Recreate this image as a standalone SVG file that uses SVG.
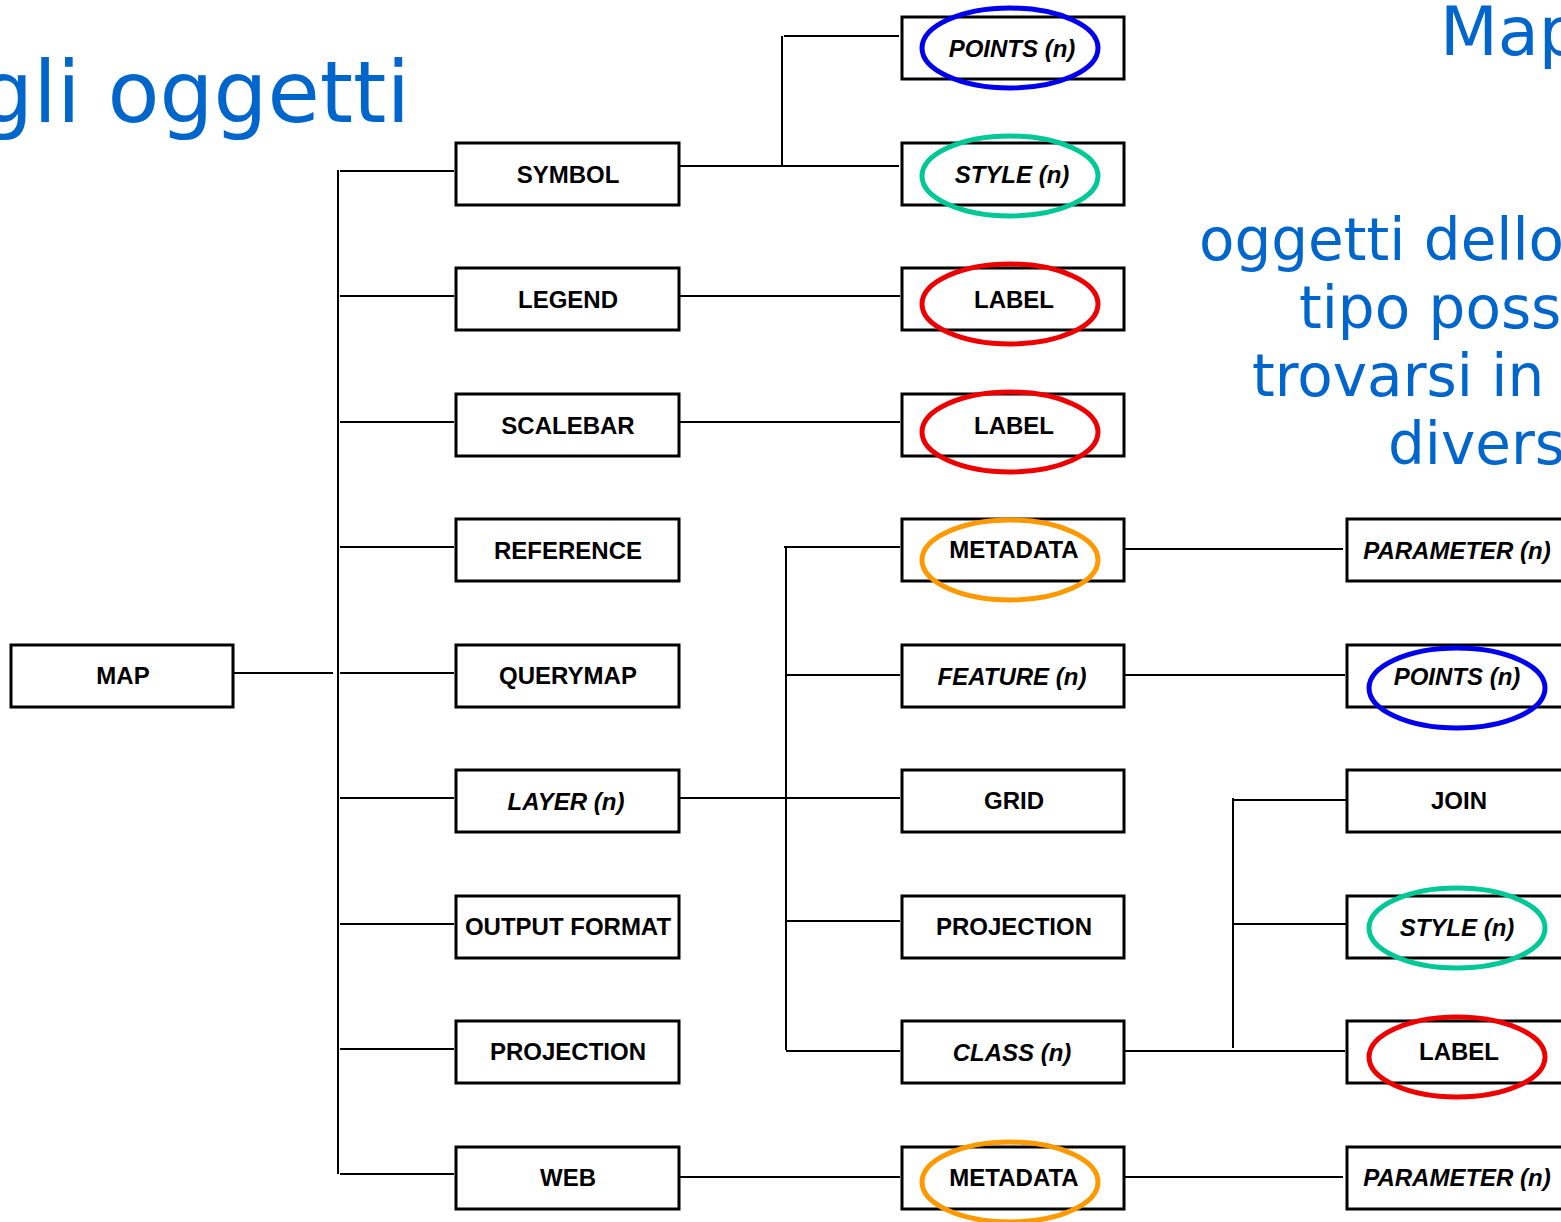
<svg xmlns="http://www.w3.org/2000/svg" width="1561" height="1222" viewBox="0 0 1561 1222">
<style>
.box{fill:#fff;stroke:#000;stroke-width:3}
.t{font-family:"Liberation Sans",Arial,sans-serif;font-weight:bold;font-size:24px;text-anchor:middle;fill:#000}
.i{font-style:italic}
.c{stroke:#000;stroke-width:2;fill:none}
.e{fill:none;stroke-width:5}
.blue{stroke:#0000ee}.green{stroke:#00c896}.red{stroke:#ee0000}.orange{stroke:#ff9900}
.h{font-family:"DejaVu Sans",sans-serif;fill:#0066cc}
</style>
<rect width="1561" height="1222" fill="#fff"/>
<text class="h" x="410" y="122" font-size="85" text-anchor="end">gli oggetti</text>
<text class="h" x="1440" y="55" font-size="67">Map</text>
<g class="h" font-size="58">
<text x="1199" y="260">oggetti dello</text>
<text x="1299" y="328">tipo poss</text>
<text x="1252" y="396">trovarsi in</text>
<text x="1388" y="464">divers</text>
</g>
<g id="connectors">
<path class="c" d="M234 673H333M338 170V1174M340 171H454M340 296H454M340 422H454M340 547H454M340 673H454M340 798H454M340 924H454M340 1049H454M340 1174H454"/>
<path class="c" d="M680 166H899M782 36V166M784 36H899"/>
<path class="c" d="M680 296H900M680 422H900M680 1177H900"/>
<path class="c" d="M680 798H900M786 547V1050M784 547H900M786 675H900M786 921H900M786 1051H900"/>
<path class="c" d="M1120 549H1343M1122 675H1345M1125 1051H1345M1233 798V1048M1233 800H1346M1233 924H1346M1120 1177H1343"/>
</g>
<g id="map"><rect class="box" x="11" y="645" width="222" height="62"/><text class="t" x="123" y="684">MAP</text></g>
<g id="symbol"><rect class="box" x="456" y="143" width="223" height="62"/><text class="t" x="568" y="183">SYMBOL</text></g>
<g id="legend"><rect class="box" x="456" y="268" width="223" height="62"/><text class="t" x="568" y="308">LEGEND</text></g>
<g id="scalebar"><rect class="box" x="456" y="394" width="223" height="62"/><text class="t" x="568" y="434">SCALEBAR</text></g>
<g id="reference"><rect class="box" x="456" y="519" width="223" height="62"/><text class="t" x="568" y="559">REFERENCE</text></g>
<g id="querymap"><rect class="box" x="456" y="645" width="223" height="62"/><text class="t" x="568" y="684">QUERYMAP</text></g>
<g id="layer"><rect class="box" x="456" y="770" width="223" height="62"/><text class="t i" x="566" y="810">LAYER (n)</text></g>
<g id="outputformat"><rect class="box" x="456" y="896" width="223" height="62"/><text class="t" x="568" y="935">OUTPUT FORMAT</text></g>
<g id="projection1"><rect class="box" x="456" y="1021" width="223" height="62"/><text class="t" x="568" y="1060">PROJECTION</text></g>
<g id="web"><rect class="box" x="456" y="1147" width="223" height="62"/><text class="t" x="568" y="1186">WEB</text></g>

<g id="points1"><rect class="box" x="902" y="17" width="222" height="62"/><text class="t i" x="1012" y="57">POINTS (n)</text><ellipse class="e blue" cx="1010" cy="48" rx="88" ry="40"/></g>
<g id="style1"><rect class="box" x="902" y="143" width="222" height="62"/><text class="t i" x="1012" y="183">STYLE (n)</text><ellipse class="e green" cx="1010" cy="176" rx="88" ry="40"/></g>
<g id="label1"><rect class="box" x="902" y="268" width="222" height="62"/><text class="t" x="1014" y="308">LABEL</text><ellipse class="e red" cx="1010" cy="304" rx="88" ry="40"/></g>
<g id="label2"><rect class="box" x="902" y="394" width="222" height="62"/><text class="t" x="1014" y="434">LABEL</text><ellipse class="e red" cx="1010" cy="432" rx="88" ry="40"/></g>
<g id="metadata1"><rect class="box" x="902" y="519" width="222" height="62"/><text class="t" x="1014" y="558">METADATA</text><ellipse class="e orange" cx="1010" cy="560" rx="88" ry="40"/></g>
<g id="feature"><rect class="box" x="902" y="645" width="222" height="62"/><text class="t i" x="1012" y="685">FEATURE (n)</text></g>
<g id="grid"><rect class="box" x="902" y="770" width="222" height="62"/><text class="t" x="1014" y="809">GRID</text></g>
<g id="projection2"><rect class="box" x="902" y="896" width="222" height="62"/><text class="t" x="1014" y="935">PROJECTION</text></g>
<g id="class"><rect class="box" x="902" y="1021" width="222" height="62"/><text class="t i" x="1012" y="1061">CLASS (n)</text></g>
<g id="metadata2"><rect class="box" x="902" y="1147" width="222" height="62"/><text class="t" x="1014" y="1186">METADATA</text><ellipse class="e orange" cx="1010" cy="1182" rx="88" ry="40"/></g>

<g id="parameter1"><rect class="box" x="1347" y="519" width="230" height="62"/><text class="t i" x="1457" y="559">PARAMETER (n)</text></g>
<g id="points2"><rect class="box" x="1347" y="645" width="230" height="62"/><text class="t i" x="1457" y="685">POINTS (n)</text><ellipse class="e blue" cx="1457" cy="688" rx="88" ry="40"/></g>
<g id="join"><rect class="box" x="1347" y="770" width="230" height="62"/><text class="t" x="1459" y="809">JOIN</text></g>
<g id="style2"><rect class="box" x="1347" y="896" width="230" height="62"/><text class="t i" x="1457" y="936">STYLE (n)</text><ellipse class="e green" cx="1457" cy="928" rx="88" ry="40"/></g>
<g id="label3"><rect class="box" x="1347" y="1021" width="230" height="62"/><text class="t" x="1459" y="1060">LABEL</text><ellipse class="e red" cx="1457" cy="1057" rx="88" ry="40"/></g>
<g id="parameter2"><rect class="box" x="1347" y="1147" width="230" height="62"/><text class="t i" x="1457" y="1186">PARAMETER (n)</text></g>
</svg>
